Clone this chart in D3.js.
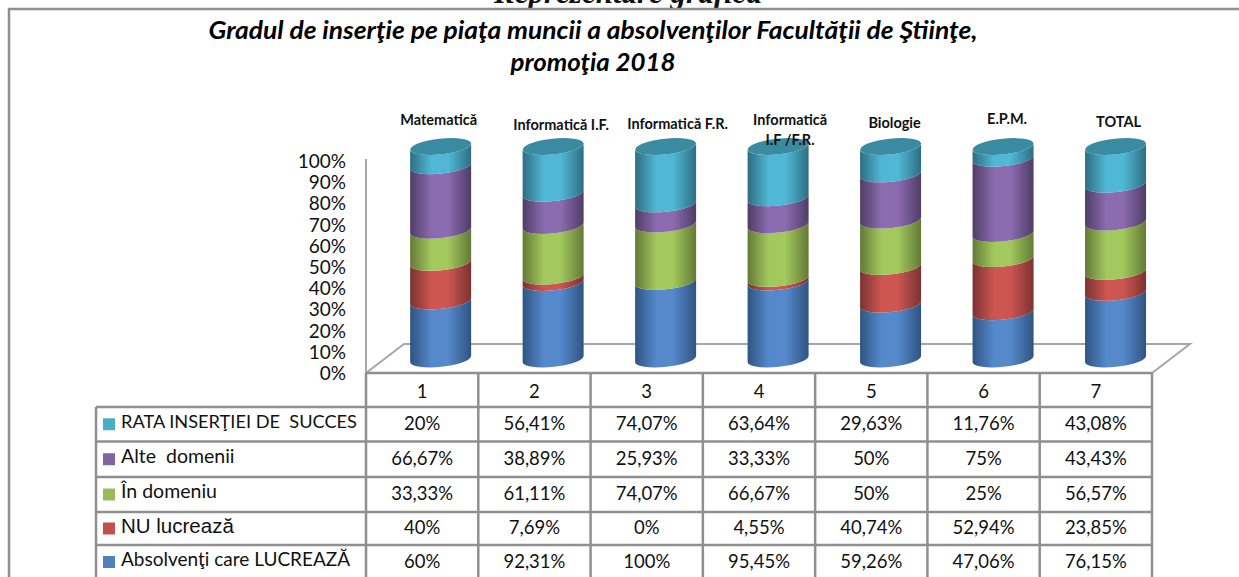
<html>

<head>
    <meta charset="utf-8">
    <script src="https://d3js.org/d3.v7.min.js"></script>
    <style>
        body {
            margin: 0;
            background: white;
        }

        text {
            fill: #111;
            font-family: Lato, sans-serif;
            white-space: pre;
        }

        .grid {
            stroke: #8f8f8f;
            stroke-width: 2.5px;
            fill: none;
        }

        .floor {
            stroke: #a6a6a6;
            stroke-width: 2px;
            fill: none;
        }
    </style>
</head>

<body>
    <svg id="chart" width="1239" height="577"></svg>
    <script>
        const categories = ["1", "2", "3", "4", "5", "6", "7"];
        const specializations = [["Matematică"], ["Informatică I.F."], ["Informatică F.R."], ["Informatică", "I.F /F.R."], ["Biologie"], ["E.P.M."], ["TOTAL"]];
        const tickLabels = [0, 0.1, 0.2, 0.3, 0.4, 0.5, 0.6, 0.7, 0.8, 0.9, 1];

        const working = [60, 92.31, 100, 95.45, 59.26, 47.06, 76.15];
        const notWorking = [40, 7.69, 0, 4.55, 40.74, 52.94, 23.85];
        const inField = [33.33, 61.11, 74.07, 66.67, 50, 25, 56.57];
        const otherFields = [66.67, 38.89, 25.93, 33.33, 50, 75, 43.43];
        const successRate = [20, 56.41, 74.07, 63.64, 29.63, 11.76, 43.08];

        const seriesNames = ["RATA INSERŢIEI DE  SUCCES", "Alte  domenii", "În domeniu", "NU lucrează", "Absolvenţi care LUCREAZĂ"];
        const seriesKeys = ["working", "notWorking", "inField", "otherFields", "successRate"];

        const svg = d3.select("#chart");

        const table = categories.map((c, i) => ({
            category: c,
            working: working[i],
            notWorking: notWorking[i],
            inField: inField[i],
            otherFields: otherFields[i],
            successRate: successRate[i]
        }));
        const stacked = d3.stack().keys(seriesKeys).offset(d3.stackOffsetExpand)(table);

        // colours: legend swatch, side of the cylinder, middle of the cylinder
        const colors = {
            working: ["#4f81bd", "#2f5482", "#5589cb"],
            notWorking: ["#c0504d", "#7b3331", "#cd5552"],
            inField: ["#9bbb59", "#637a35", "#a3c85e"],
            otherFields: ["#8064a2", "#4f3d66", "#8b6cb0"],
            successRate: ["#4bacc6", "#2e6e82", "#50b8d6"]
        };
        const capColor = "#3a8aa1";

        const x = d3.scaleBand().domain(categories).range([366, 1152]);
        const yAxisScale = d3.scaleLinear().domain([0, 1]).range([373, 161]);
        const y = d3.scaleLinear().domain([0, 1]).range([359, 146.5]);

        const depthX = 38, depthY = 29;
        const rx = 30.5, ry = 7.8, tilt = -6;
        const tip = rx * Math.sin(-tilt * Math.PI / 180);
        const columnX = d => x(d) + x.bandwidth() / 2 + 18.5 + 0.2 * (+d - 1);

        // outer frame and the heading cut by the top of the page
        svg.append("text")
            .attr("x", 628).attr("y", 3)
            .attr("text-anchor", "middle")
            .style("font-family", "'Liberation Serif', serif")
            .style("font-weight", "bold").style("font-style", "italic")
            .style("font-size", "31px")
            .text("Reprezentare grafică");
        svg.append("path").attr("class", "grid").attr("d", "M1239,9H9V577");

        // title
        const title = svg.append("g")
            .attr("text-anchor", "middle")
            .style("font-weight", "bold").style("font-style", "italic")
            .style("font-size", "24px");
        title.append("text").attr("x", 593).attr("y", 39).attr("textLength", 769).attr("lengthAdjust", "spacingAndGlyphs")
            .style("fill", "#000")
            .text("Gradul de inserţie pe piaţa muncii a absolvenţilor Facultăţii de Ştiinţe,");
        title.append("text").attr("x", 593).attr("y", 71).attr("textLength", 165).attr("lengthAdjust", "spacingAndGlyphs")
            .style("fill", "#000")
            .text("promoţia 2018");

        // floor of the 3d plot
        svg.append("path").attr("class", "floor")
            .attr("d", `M${x.range()[0]},${yAxisScale(0)}L${x.range()[0] + depthX},${yAxisScale(0) - depthY}H${x.range()[1] + depthX}L${x.range()[1]},${yAxisScale(0)}`);
        svg.append("line").attr("class", "floor")
            .attr("x1", x.range()[0]).attr("x2", x.range()[0])
            .attr("y1", yAxisScale(0)).attr("y2", yAxisScale(1) - 2);

        // y axis
        const yAxis = d3.axisLeft(yAxisScale).tickValues(tickLabels).tickFormat(d3.format(".0%")).tickSize(0).tickPadding(20);
        const yAxisG = svg.append("g").attr("transform", `translate(${x.range()[0]},0.5)`).call(yAxis);
        yAxisG.select(".domain").remove();
        yAxisG.selectAll("text").style("font-size", "19px").style("font-family", "Lato, sans-serif").attr("fill", "#111");

        // gradients for the round look
        const defs = svg.append("defs");
        seriesKeys.forEach(k => {
            const g = defs.append("linearGradient").attr("id", "grad-" + k);
            g.append("stop").attr("offset", "0%").attr("stop-color", colors[k][1]);
            g.append("stop").attr("offset", "35%").attr("stop-color", colors[k][2]);
            g.append("stop").attr("offset", "62%").attr("stop-color", colors[k][2]);
            g.append("stop").attr("offset", "100%").attr("stop-color", colors[k][1]);
        });

        // cylinders
        const segmentPath = function (cx, y0, y1) {
            const left = cx - rx, right = cx + rx;
            return `M${left},${y0 + tip}A${rx},${ry} ${tilt} 0 0 ${right},${y0 - tip}` +
                `L${right},${y1 - tip}A${rx},${ry} ${tilt} 0 1 ${left},${y1 + tip}Z`;
        };

        stacked.forEach(layer => {
            svg.append("g").selectAll("path")
                .data(layer)
                .join("path")
                .attr("d", d => segmentPath(columnX(d.data.category), y(d[0]), y(d[1])))
                .attr("fill", `url(#grad-${layer.key})`);
        });

        svg.append("g").selectAll("ellipse")
            .data(categories)
            .join("ellipse")
            .attr("transform", d => `translate(${columnX(d)},${y(1)}) rotate(${tilt})`)
            .attr("rx", rx).attr("ry", ry)
            .attr("fill", capColor);

        // labels over the cylinders, each one sits a bit differently in the original
        const labelNudgeX = [-2, 8, 12, 12, 4, 4, 3];
        const labelY = [125, 130, 129, 125, 128, 124, 127];
        const labels = svg.append("g")
            .attr("text-anchor", "middle")
            .style("font-weight", "bold")
            .style("font-size", "14.5px");
        specializations.forEach((lines, i) => {
            lines.forEach((line, j) => {
                labels.append("text")
                    .attr("x", columnX(categories[i]) + labelNudgeX[i])
                    .attr("y", labelY[i] + j * 20)
                    .text(line);
            });
        });

        // data table under the plot
        const rowEdges = [373, 407, 441.5, 477, 512, 545, 590];
        const rowKeys = ["successRate", "otherFields", "inField", "notWorking", "working"];
        const nameSizes = ["18.2px", "19.5px", "19.5px", "20.5px", "19px"];
        const legendLeft = 96, swatch = 12;
        const rowData = { working, notWorking, inField, otherFields, successRate };
        const formatValue = v => String(v).replace(".", ",") + "%";

        const tableG = svg.append("g");
        rowEdges.slice(1, -1).forEach(e => {
            tableG.append("line").attr("class", "grid")
                .attr("x1", legendLeft).attr("x2", x.range()[1]).attr("y1", e).attr("y2", e);
        });
        x.domain().concat("end").forEach((c, i) => {
            const xp = x.range()[0] + i * x.bandwidth();
            tableG.append("line").attr("class", "grid")
                .attr("x1", xp).attr("x2", xp).attr("y1", rowEdges[0]).attr("y2", 577);
        });
        tableG.append("line").attr("class", "grid")
            .attr("x1", legendLeft).attr("x2", legendLeft).attr("y1", rowEdges[1]).attr("y2", 577);
        tableG.append("line").attr("class", "grid")
            .attr("x1", x.range()[0]).attr("x2", x.range()[1]).attr("y1", rowEdges[0]).attr("y2", rowEdges[0]);

        tableG.selectAll("text.cat").data(categories).join("text")
            .attr("class", "cat")
            .attr("x", d => x(d) + x.bandwidth() / 2)
            .attr("y", 398)
            .attr("text-anchor", "middle")
            .style("font-size", "18.5px")
            .text(d => d);

        rowKeys.forEach((key, r) => {
            const midY = (rowEdges[r + 1] + rowEdges[r + 2]) / 2;
            const textY = r == 4 ? 562 : midY;
            tableG.append("rect")
                .attr("x", legendLeft + 7).attr("y", textY - 6)
                .attr("width", swatch).attr("height", swatch)
                .attr("fill", colors[key][0]);
            tableG.append("text")
                .attr("x", legendLeft + 25).attr("y", textY - 1)
                .attr("dominant-baseline", "middle")
                .style("font-size", nameSizes[r])
                .style("font-family", key == "notWorking" ? "'Liberation Sans', sans-serif" : null)
                .text(seriesNames[r]);
            tableG.selectAll("text.v" + r).data(categories).join("text")
                .attr("class", "v" + r)
                .attr("x", d => x(d) + x.bandwidth() / 2)
                .attr("y", textY + 1)
                .attr("dominant-baseline", "middle")
                .attr("text-anchor", "middle")
                .style("font-size", "18.5px")
                .text((d, i) => formatValue(rowData[key][i]));
        });
    </script>
</body>

</html>
